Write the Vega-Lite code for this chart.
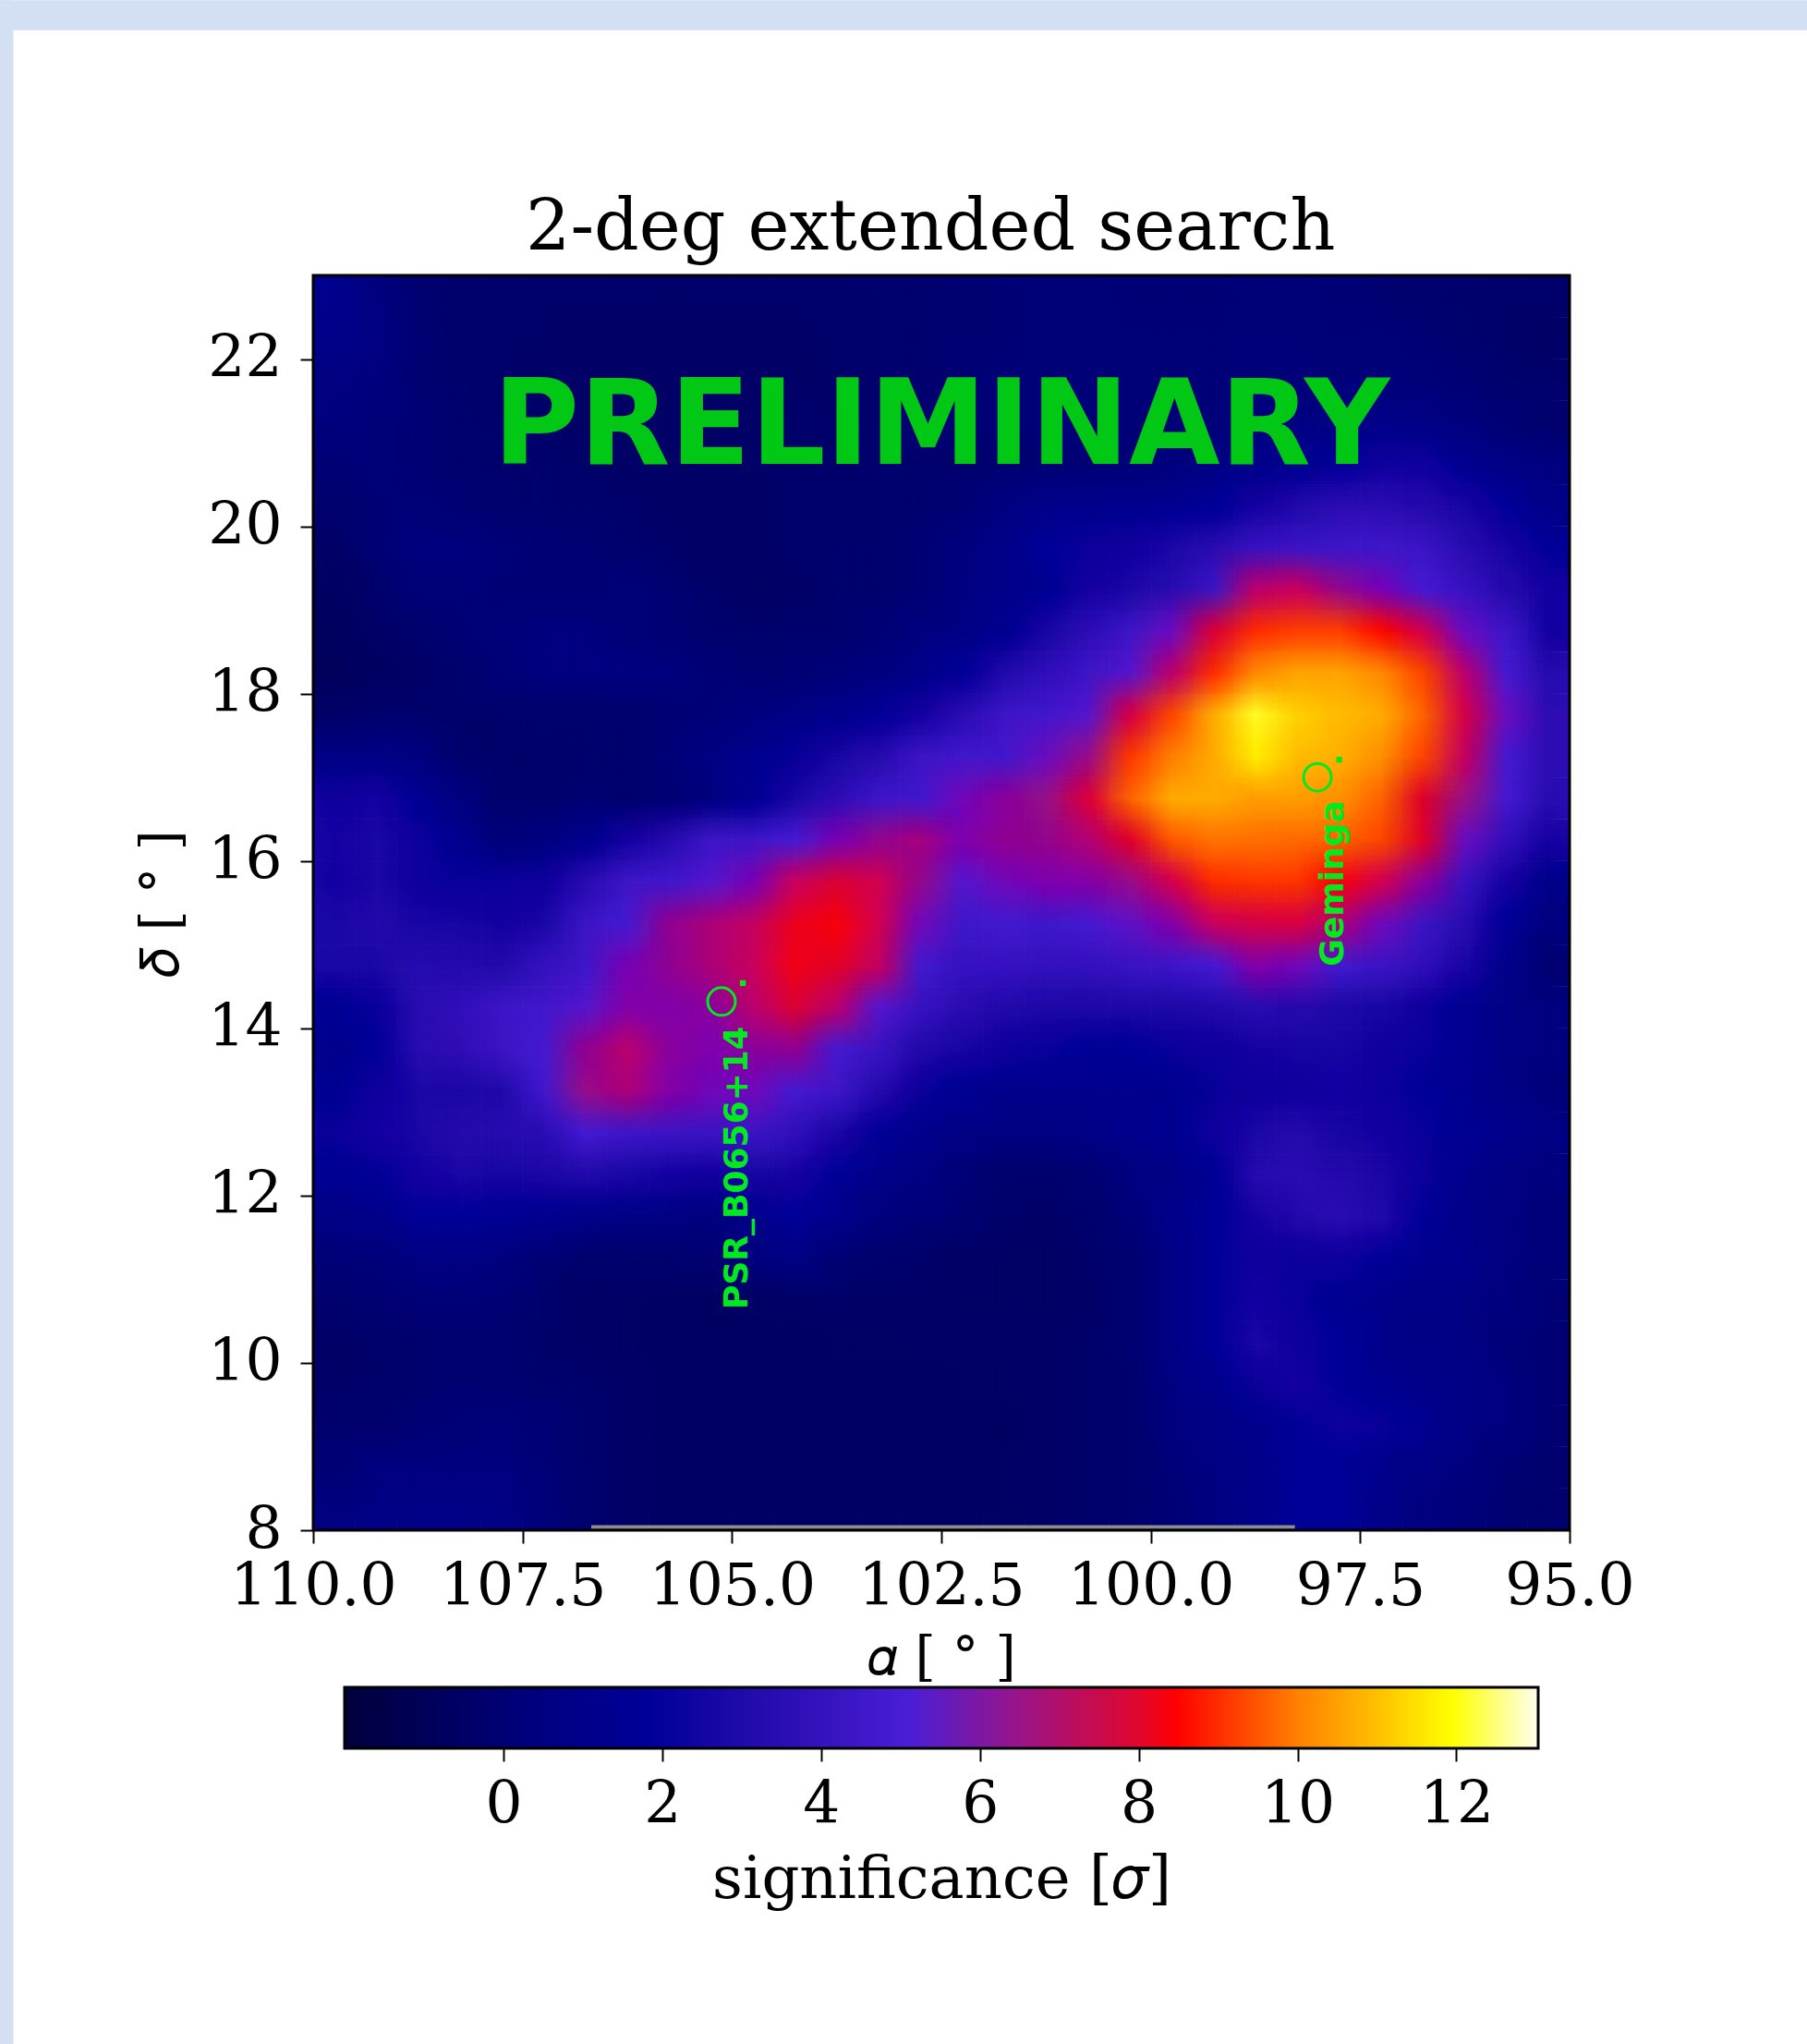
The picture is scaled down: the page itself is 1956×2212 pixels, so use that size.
{"$schema":"https://vega.github.io/schema/vega-lite/v6.json","description":"2-deg extended search","width":1360,"height":1358,"autosize":"none","padding":{"left":339,"top":298,"right":257,"bottom":556},"background":"white","config":{"font":"DejaVu Serif","view":{"stroke":null},"axis":{"grid":false,"labelFont":"DejaVu Serif","labelFontSize":63,"labelLimit":500,"labelColor":"black","titleFont":"DejaVu Serif","titleFontSize":57,"titleFontWeight":"normal","titleColor":"black","titleLimit":900,"tickColor":"black","tickSize":14,"tickWidth":2,"domain":false}},"datasets":{"cells":[
{"a":109.75,"d":22.75,"s":1.3},{"a":109.25,"d":22.75,"s":0.7},{"a":108.75,"d":22.75,"s":0.1},{"a":108.25,"d":22.75,"s":-0.2},{"a":107.75,"d":22.75,"s":-0.2},{"a":107.25,"d":22.75,"s":-0.2},{"a":106.75,"d":22.75,"s":-0.2},{"a":106.25,"d":22.75,"s":-0.2},{"a":105.75,"d":22.75,"s":-0.2},{"a":105.25,"d":22.75,"s":-0.2},{"a":104.75,"d":22.75,"s":-0.2},{"a":104.25,"d":22.75,"s":-0.2},{"a":103.75,"d":22.75,"s":-0.2},{"a":103.25,"d":22.75,"s":-0.1},{"a":102.75,"d":22.75,"s":0},{"a":102.25,"d":22.75,"s":0.1},{"a":101.75,"d":22.75,"s":0.2},{"a":101.25,"d":22.75,"s":0.3},{"a":100.75,"d":22.75,"s":0.3},{"a":100.25,"d":22.75,"s":0.2},{"a":99.75,"d":22.75,"s":0.2},{"a":99.25,"d":22.75,"s":0.2},{"a":98.75,"d":22.75,"s":0.3},{"a":98.25,"d":22.75,"s":0.3},{"a":97.75,"d":22.75,"s":0.2},{"a":97.25,"d":22.75,"s":0.1},{"a":96.75,"d":22.75,"s":0},{"a":96.25,"d":22.75,"s":-0.1},{"a":95.75,"d":22.75,"s":-0.2},{"a":95.25,"d":22.75,"s":-0.2},
{"a":109.75,"d":22.25,"s":1.2},{"a":109.25,"d":22.25,"s":0.8},{"a":108.75,"d":22.25,"s":0.2},{"a":108.25,"d":22.25,"s":-0.2},{"a":107.75,"d":22.25,"s":-0.2},{"a":107.25,"d":22.25,"s":-0.2},{"a":106.75,"d":22.25,"s":-0.3},{"a":106.25,"d":22.25,"s":-0.3},{"a":105.75,"d":22.25,"s":-0.3},{"a":105.25,"d":22.25,"s":-0.3},{"a":104.75,"d":22.25,"s":-0.3},{"a":104.25,"d":22.25,"s":-0.3},{"a":103.75,"d":22.25,"s":-0.2},{"a":103.25,"d":22.25,"s":-0.1},{"a":102.75,"d":22.25,"s":0},{"a":102.25,"d":22.25,"s":0.1},{"a":101.75,"d":22.25,"s":0.2},{"a":101.25,"d":22.25,"s":0.3},{"a":100.75,"d":22.25,"s":0.3},{"a":100.25,"d":22.25,"s":0.3},{"a":99.75,"d":22.25,"s":0.3},{"a":99.25,"d":22.25,"s":0.3},{"a":98.75,"d":22.25,"s":0.4},{"a":98.25,"d":22.25,"s":0.4},{"a":97.75,"d":22.25,"s":0.3},{"a":97.25,"d":22.25,"s":0.3},{"a":96.75,"d":22.25,"s":0.2},{"a":96.25,"d":22.25,"s":0},{"a":95.75,"d":22.25,"s":-0.2},{"a":95.25,"d":22.25,"s":-0.3},
{"a":109.75,"d":21.75,"s":0.7},{"a":109.25,"d":21.75,"s":0.5},{"a":108.75,"d":21.75,"s":0.1},{"a":108.25,"d":21.75,"s":-0.1},{"a":107.75,"d":21.75,"s":-0.2},{"a":107.25,"d":21.75,"s":-0.3},{"a":106.75,"d":21.75,"s":-0.3},{"a":106.25,"d":21.75,"s":-0.3},{"a":105.75,"d":21.75,"s":-0.3},{"a":105.25,"d":21.75,"s":-0.3},{"a":104.75,"d":21.75,"s":-0.3},{"a":104.25,"d":21.75,"s":-0.3},{"a":103.75,"d":21.75,"s":-0.2},{"a":103.25,"d":21.75,"s":-0.1},{"a":102.75,"d":21.75,"s":0},{"a":102.25,"d":21.75,"s":0.2},{"a":101.75,"d":21.75,"s":0.3},{"a":101.25,"d":21.75,"s":0.3},{"a":100.75,"d":21.75,"s":0.3},{"a":100.25,"d":21.75,"s":0.3},{"a":99.75,"d":21.75,"s":0.3},{"a":99.25,"d":21.75,"s":0.3},{"a":98.75,"d":21.75,"s":0.4},{"a":98.25,"d":21.75,"s":0.4},{"a":97.75,"d":21.75,"s":0.4},{"a":97.25,"d":21.75,"s":0.4},{"a":96.75,"d":21.75,"s":0.4},{"a":96.25,"d":21.75,"s":0.2},{"a":95.75,"d":21.75,"s":0},{"a":95.25,"d":21.75,"s":-0.1},
{"a":109.75,"d":21.25,"s":0.5},{"a":109.25,"d":21.25,"s":0.4},{"a":108.75,"d":21.25,"s":0.2},{"a":108.25,"d":21.25,"s":0},{"a":107.75,"d":21.25,"s":-0.1},{"a":107.25,"d":21.25,"s":-0.2},{"a":106.75,"d":21.25,"s":-0.3},{"a":106.25,"d":21.25,"s":-0.3},{"a":105.75,"d":21.25,"s":-0.3},{"a":105.25,"d":21.25,"s":-0.3},{"a":104.75,"d":21.25,"s":-0.3},{"a":104.25,"d":21.25,"s":-0.2},{"a":103.75,"d":21.25,"s":-0.1},{"a":103.25,"d":21.25,"s":0},{"a":102.75,"d":21.25,"s":0.1},{"a":102.25,"d":21.25,"s":0.2},{"a":101.75,"d":21.25,"s":0.3},{"a":101.25,"d":21.25,"s":0.3},{"a":100.75,"d":21.25,"s":0.3},{"a":100.25,"d":21.25,"s":0.3},{"a":99.75,"d":21.25,"s":0.3},{"a":99.25,"d":21.25,"s":0.4},{"a":98.75,"d":21.25,"s":0.6},{"a":98.25,"d":21.25,"s":0.8},{"a":97.75,"d":21.25,"s":1},{"a":97.25,"d":21.25,"s":1.2},{"a":96.75,"d":21.25,"s":1},{"a":96.25,"d":21.25,"s":0.6},{"a":95.75,"d":21.25,"s":0.2},{"a":95.25,"d":21.25,"s":0},
{"a":109.75,"d":20.75,"s":0.2},{"a":109.25,"d":20.75,"s":0.3},{"a":108.75,"d":20.75,"s":0.2},{"a":108.25,"d":20.75,"s":0},{"a":107.75,"d":20.75,"s":-0.1},{"a":107.25,"d":20.75,"s":-0.1},{"a":106.75,"d":20.75,"s":-0.2},{"a":106.25,"d":20.75,"s":-0.3},{"a":105.75,"d":20.75,"s":-0.3},{"a":105.25,"d":20.75,"s":-0.3},{"a":104.75,"d":20.75,"s":-0.3},{"a":104.25,"d":20.75,"s":-0.2},{"a":103.75,"d":20.75,"s":-0.2},{"a":103.25,"d":20.75,"s":-0.1},{"a":102.75,"d":20.75,"s":0},{"a":102.25,"d":20.75,"s":0},{"a":101.75,"d":20.75,"s":0.1},{"a":101.25,"d":20.75,"s":0.2},{"a":100.75,"d":20.75,"s":0.2},{"a":100.25,"d":20.75,"s":0.3},{"a":99.75,"d":20.75,"s":0.5},{"a":99.25,"d":20.75,"s":0.8},{"a":98.75,"d":20.75,"s":1.2},{"a":98.25,"d":20.75,"s":1.6},{"a":97.75,"d":20.75,"s":2},{"a":97.25,"d":20.75,"s":2.5},{"a":96.75,"d":20.75,"s":2.5},{"a":96.25,"d":20.75,"s":1.6},{"a":95.75,"d":20.75,"s":1},{"a":95.25,"d":20.75,"s":0.6},
{"a":109.75,"d":20.25,"s":0},{"a":109.25,"d":20.25,"s":0.2},{"a":108.75,"d":20.25,"s":0.3},{"a":108.25,"d":20.25,"s":0.2},{"a":107.75,"d":20.25,"s":0},{"a":107.25,"d":20.25,"s":0},{"a":106.75,"d":20.25,"s":-0.1},{"a":106.25,"d":20.25,"s":-0.2},{"a":105.75,"d":20.25,"s":-0.3},{"a":105.25,"d":20.25,"s":-0.3},{"a":104.75,"d":20.25,"s":-0.3},{"a":104.25,"d":20.25,"s":-0.2},{"a":103.75,"d":20.25,"s":-0.2},{"a":103.25,"d":20.25,"s":-0.1},{"a":102.75,"d":20.25,"s":0},{"a":102.25,"d":20.25,"s":0.2},{"a":101.75,"d":20.25,"s":0.7},{"a":101.25,"d":20.25,"s":1.2},{"a":100.75,"d":20.25,"s":1.4},{"a":100.25,"d":20.25,"s":1.5},{"a":99.75,"d":20.25,"s":1.6},{"a":99.25,"d":20.25,"s":1.9},{"a":98.75,"d":20.25,"s":2.6},{"a":98.25,"d":20.25,"s":3.2},{"a":97.75,"d":20.25,"s":3.7},{"a":97.25,"d":20.25,"s":3.7},{"a":96.75,"d":20.25,"s":3.4},{"a":96.25,"d":20.25,"s":2.8},{"a":95.75,"d":20.25,"s":2},{"a":95.25,"d":20.25,"s":1.2},
{"a":109.75,"d":19.75,"s":-0.3},{"a":109.25,"d":19.75,"s":0.2},{"a":108.75,"d":19.75,"s":0.5},{"a":108.25,"d":19.75,"s":0.5},{"a":107.75,"d":19.75,"s":0.3},{"a":107.25,"d":19.75,"s":0.2},{"a":106.75,"d":19.75,"s":0.1},{"a":106.25,"d":19.75,"s":0},{"a":105.75,"d":19.75,"s":-0.2},{"a":105.25,"d":19.75,"s":-0.3},{"a":104.75,"d":19.75,"s":-0.3},{"a":104.25,"d":19.75,"s":-0.2},{"a":103.75,"d":19.75,"s":-0.1},{"a":103.25,"d":19.75,"s":0},{"a":102.75,"d":19.75,"s":0.2},{"a":102.25,"d":19.75,"s":0.5},{"a":101.75,"d":19.75,"s":1.2},{"a":101.25,"d":19.75,"s":2},{"a":100.75,"d":19.75,"s":2.3},{"a":100.25,"d":19.75,"s":2.5},{"a":99.75,"d":19.75,"s":3},{"a":99.25,"d":19.75,"s":3.6},{"a":98.75,"d":19.75,"s":4.3},{"a":98.25,"d":19.75,"s":4.5},{"a":97.75,"d":19.75,"s":4.6},{"a":97.25,"d":19.75,"s":4.7},{"a":96.75,"d":19.75,"s":4.5},{"a":96.25,"d":19.75,"s":3.6},{"a":95.75,"d":19.75,"s":2.8},{"a":95.25,"d":19.75,"s":2},
{"a":109.75,"d":19.25,"s":-0.5},{"a":109.25,"d":19.25,"s":-0.1},{"a":108.75,"d":19.25,"s":0.3},{"a":108.25,"d":19.25,"s":0.3},{"a":107.75,"d":19.25,"s":0.2},{"a":107.25,"d":19.25,"s":0.2},{"a":106.75,"d":19.25,"s":0.2},{"a":106.25,"d":19.25,"s":0.3},{"a":105.75,"d":19.25,"s":0.1},{"a":105.25,"d":19.25,"s":-0.2},{"a":104.75,"d":19.25,"s":-0.4},{"a":104.25,"d":19.25,"s":-0.3},{"a":103.75,"d":19.25,"s":-0.1},{"a":103.25,"d":19.25,"s":0},{"a":102.75,"d":19.25,"s":0.2},{"a":102.25,"d":19.25,"s":0.7},{"a":101.75,"d":19.25,"s":1.2},{"a":101.25,"d":19.25,"s":1.8},{"a":100.75,"d":19.25,"s":2.6},{"a":100.25,"d":19.25,"s":3},{"a":99.75,"d":19.25,"s":3.6},{"a":99.25,"d":19.25,"s":4.5},{"a":98.75,"d":19.25,"s":7},{"a":98.25,"d":19.25,"s":7.3},{"a":97.75,"d":19.25,"s":6.3},{"a":97.25,"d":19.25,"s":5.6},{"a":96.75,"d":19.25,"s":5},{"a":96.25,"d":19.25,"s":4.3},{"a":95.75,"d":19.25,"s":3.4},{"a":95.25,"d":19.25,"s":2.6},
{"a":109.75,"d":18.75,"s":-0.7},{"a":109.25,"d":18.75,"s":-0.3},{"a":108.75,"d":18.75,"s":0},{"a":108.25,"d":18.75,"s":0.2},{"a":107.75,"d":18.75,"s":0.4},{"a":107.25,"d":18.75,"s":0.5},{"a":106.75,"d":18.75,"s":0.5},{"a":106.25,"d":18.75,"s":0.3},{"a":105.75,"d":18.75,"s":0.2},{"a":105.25,"d":18.75,"s":0},{"a":104.75,"d":18.75,"s":-0.1},{"a":104.25,"d":18.75,"s":-0.1},{"a":103.75,"d":18.75,"s":0},{"a":103.25,"d":18.75,"s":0.2},{"a":102.75,"d":18.75,"s":0.6},{"a":102.25,"d":18.75,"s":1},{"a":101.75,"d":18.75,"s":1.6},{"a":101.25,"d":18.75,"s":2.8},{"a":100.75,"d":18.75,"s":3.8},{"a":100.25,"d":18.75,"s":4.6},{"a":99.75,"d":18.75,"s":5.4},{"a":99.25,"d":18.75,"s":7.8},{"a":98.75,"d":18.75,"s":8.7},{"a":98.25,"d":18.75,"s":8.9},{"a":97.75,"d":18.75,"s":8.9},{"a":97.25,"d":18.75,"s":8.5},{"a":96.75,"d":18.75,"s":7.5},{"a":96.25,"d":18.75,"s":5.4},{"a":95.75,"d":18.75,"s":4.6},{"a":95.25,"d":18.75,"s":2.6},
{"a":109.75,"d":18.25,"s":-0.8},{"a":109.25,"d":18.25,"s":-0.5},{"a":108.75,"d":18.25,"s":-0.3},{"a":108.25,"d":18.25,"s":0},{"a":107.75,"d":18.25,"s":0.3},{"a":107.25,"d":18.25,"s":0.5},{"a":106.75,"d":18.25,"s":0.6},{"a":106.25,"d":18.25,"s":0.7},{"a":105.75,"d":18.25,"s":0.5},{"a":105.25,"d":18.25,"s":0.2},{"a":104.75,"d":18.25,"s":0.1},{"a":104.25,"d":18.25,"s":0.2},{"a":103.75,"d":18.25,"s":0.3},{"a":103.25,"d":18.25,"s":0.6},{"a":102.75,"d":18.25,"s":1.2},{"a":102.25,"d":18.25,"s":2},{"a":101.75,"d":18.25,"s":3.2},{"a":101.25,"d":18.25,"s":4},{"a":100.75,"d":18.25,"s":4.6},{"a":100.25,"d":18.25,"s":5.2},{"a":99.75,"d":18.25,"s":7},{"a":99.25,"d":18.25,"s":8.7},{"a":98.75,"d":18.25,"s":10.2},{"a":98.25,"d":18.25,"s":10.6},{"a":97.75,"d":18.25,"s":10.6},{"a":97.25,"d":18.25,"s":10.2},{"a":96.75,"d":18.25,"s":9},{"a":96.25,"d":18.25,"s":7},{"a":95.75,"d":18.25,"s":5},{"a":95.25,"d":18.25,"s":3.5},
{"a":109.75,"d":17.75,"s":-0.3},{"a":109.25,"d":17.75,"s":0},{"a":108.75,"d":17.75,"s":0},{"a":108.25,"d":17.75,"s":-0.2},{"a":107.75,"d":17.75,"s":-0.1},{"a":107.25,"d":17.75,"s":0},{"a":106.75,"d":17.75,"s":0},{"a":106.25,"d":17.75,"s":0},{"a":105.75,"d":17.75,"s":0.1},{"a":105.25,"d":17.75,"s":0.3},{"a":104.75,"d":17.75,"s":0.6},{"a":104.25,"d":17.75,"s":1},{"a":103.75,"d":17.75,"s":1.4},{"a":103.25,"d":17.75,"s":2},{"a":102.75,"d":17.75,"s":2.6},{"a":102.25,"d":17.75,"s":3.7},{"a":101.75,"d":17.75,"s":4.6},{"a":101.25,"d":17.75,"s":4.8},{"a":100.75,"d":17.75,"s":5.2},{"a":100.25,"d":17.75,"s":7.6},{"a":99.75,"d":17.75,"s":9},{"a":99.25,"d":17.75,"s":10.7},{"a":98.75,"d":17.75,"s":12},{"a":98.25,"d":17.75,"s":11.3},{"a":97.75,"d":17.75,"s":11},{"a":97.25,"d":17.75,"s":10.7},{"a":96.75,"d":17.75,"s":9.5},{"a":96.25,"d":17.75,"s":7.6},{"a":95.75,"d":17.75,"s":5.4},{"a":95.25,"d":17.75,"s":3.8},
{"a":109.75,"d":17.25,"s":0.9},{"a":109.25,"d":17.25,"s":1},{"a":108.75,"d":17.25,"s":0.7},{"a":108.25,"d":17.25,"s":0},{"a":107.75,"d":17.25,"s":-0.2},{"a":107.25,"d":17.25,"s":-0.2},{"a":106.75,"d":17.25,"s":-0.1},{"a":106.25,"d":17.25,"s":0},{"a":105.75,"d":17.25,"s":0.3},{"a":105.25,"d":17.25,"s":0.8},{"a":104.75,"d":17.25,"s":1.5},{"a":104.25,"d":17.25,"s":2.1},{"a":103.75,"d":17.25,"s":2.8},{"a":103.25,"d":17.25,"s":3.5},{"a":102.75,"d":17.25,"s":4.5},{"a":102.25,"d":17.25,"s":4.8},{"a":101.75,"d":17.25,"s":4.8},{"a":101.25,"d":17.25,"s":5.4},{"a":100.75,"d":17.25,"s":6.4},{"a":100.25,"d":17.25,"s":8.8},{"a":99.75,"d":17.25,"s":10},{"a":99.25,"d":17.25,"s":10.7},{"a":98.75,"d":17.25,"s":11.7},{"a":98.25,"d":17.25,"s":11},{"a":97.75,"d":17.25,"s":10.8},{"a":97.25,"d":17.25,"s":10.3},{"a":96.75,"d":17.25,"s":9},{"a":96.25,"d":17.25,"s":7.2},{"a":95.75,"d":17.25,"s":5},{"a":95.25,"d":17.25,"s":3.8},
{"a":109.75,"d":16.75,"s":2.4},{"a":109.25,"d":16.75,"s":2.7},{"a":108.75,"d":16.75,"s":1.8},{"a":108.25,"d":16.75,"s":0.7},{"a":107.75,"d":16.75,"s":0},{"a":107.25,"d":16.75,"s":-0.1},{"a":106.75,"d":16.75,"s":0.1},{"a":106.25,"d":16.75,"s":-0.1},{"a":105.75,"d":16.75,"s":0.1},{"a":105.25,"d":16.75,"s":0.7},{"a":104.75,"d":16.75,"s":1.8},{"a":104.25,"d":16.75,"s":2.9},{"a":103.75,"d":16.75,"s":3.8},{"a":103.25,"d":16.75,"s":4.6},{"a":102.75,"d":16.75,"s":4.8},{"a":102.25,"d":16.75,"s":5.5},{"a":101.75,"d":16.75,"s":6},{"a":101.25,"d":16.75,"s":6.5},{"a":100.75,"d":16.75,"s":7.8},{"a":100.25,"d":16.75,"s":9.5},{"a":99.75,"d":16.75,"s":10.7},{"a":99.25,"d":16.75,"s":10.7},{"a":98.75,"d":16.75,"s":10.5},{"a":98.25,"d":16.75,"s":10.5},{"a":97.75,"d":16.75,"s":10.3},{"a":97.25,"d":16.75,"s":9.5},{"a":96.75,"d":16.75,"s":8},{"a":96.25,"d":16.75,"s":6.5},{"a":95.75,"d":16.75,"s":5},{"a":95.25,"d":16.75,"s":3.6},
{"a":109.75,"d":16.25,"s":2.7},{"a":109.25,"d":16.25,"s":3},{"a":108.75,"d":16.25,"s":2.4},{"a":108.25,"d":16.25,"s":1.5},{"a":107.75,"d":16.25,"s":0.4},{"a":107.25,"d":16.25,"s":0.7},{"a":106.75,"d":16.25,"s":1.3},{"a":106.25,"d":16.25,"s":2.6},{"a":105.75,"d":16.25,"s":3.5},{"a":105.25,"d":16.25,"s":4.6},{"a":104.75,"d":16.25,"s":4.6},{"a":104.25,"d":16.25,"s":5.1},{"a":103.75,"d":16.25,"s":5.6},{"a":103.25,"d":16.25,"s":6.3},{"a":102.75,"d":16.25,"s":6.7},{"a":102.25,"d":16.25,"s":5.7},{"a":101.75,"d":16.25,"s":6.2},{"a":101.25,"d":16.25,"s":6.3},{"a":100.75,"d":16.25,"s":6.9},{"a":100.25,"d":16.25,"s":8},{"a":99.75,"d":16.25,"s":9.3},{"a":99.25,"d":16.25,"s":9.8},{"a":98.75,"d":16.25,"s":9.7},{"a":98.25,"d":16.25,"s":9.6},{"a":97.75,"d":16.25,"s":9.5},{"a":97.25,"d":16.25,"s":9},{"a":96.75,"d":16.25,"s":8},{"a":96.25,"d":16.25,"s":5.4},{"a":95.75,"d":16.25,"s":4},{"a":95.25,"d":16.25,"s":2.7},
{"a":109.75,"d":15.75,"s":2.6},{"a":109.25,"d":15.75,"s":3},{"a":108.75,"d":15.75,"s":2.4},{"a":108.25,"d":15.75,"s":2.2},{"a":107.75,"d":15.75,"s":2.2},{"a":107.25,"d":15.75,"s":2.4},{"a":106.75,"d":15.75,"s":3.6},{"a":106.25,"d":15.75,"s":4.6},{"a":105.75,"d":15.75,"s":4.8},{"a":105.25,"d":15.75,"s":5.2},{"a":104.75,"d":15.75,"s":5.6},{"a":104.25,"d":15.75,"s":7.3},{"a":103.75,"d":15.75,"s":7.9},{"a":103.25,"d":15.75,"s":7.5},{"a":102.75,"d":15.75,"s":6.3},{"a":102.25,"d":15.75,"s":5.2},{"a":101.75,"d":15.75,"s":5.5},{"a":101.25,"d":15.75,"s":5.7},{"a":100.75,"d":15.75,"s":5.8},{"a":100.25,"d":15.75,"s":6.4},{"a":99.75,"d":15.75,"s":7.5},{"a":99.25,"d":15.75,"s":8.7},{"a":98.75,"d":15.75,"s":8.8},{"a":98.25,"d":15.75,"s":8.8},{"a":97.75,"d":15.75,"s":8.4},{"a":97.25,"d":15.75,"s":7.5},{"a":96.75,"d":15.75,"s":6},{"a":96.25,"d":15.75,"s":4.3},{"a":95.75,"d":15.75,"s":2.7},{"a":95.25,"d":15.75,"s":1.2},
{"a":109.75,"d":15.25,"s":3},{"a":109.25,"d":15.25,"s":3.3},{"a":108.75,"d":15.25,"s":2.9},{"a":108.25,"d":15.25,"s":2.8},{"a":107.75,"d":15.25,"s":2.6},{"a":107.25,"d":15.25,"s":3},{"a":106.75,"d":15.25,"s":4.5},{"a":106.25,"d":15.25,"s":5},{"a":105.75,"d":15.25,"s":6.2},{"a":105.25,"d":15.25,"s":6.8},{"a":104.75,"d":15.25,"s":7.2},{"a":104.25,"d":15.25,"s":8.2},{"a":103.75,"d":15.25,"s":8.4},{"a":103.25,"d":15.25,"s":7.5},{"a":102.75,"d":15.25,"s":5.5},{"a":102.25,"d":15.25,"s":4.7},{"a":101.75,"d":15.25,"s":4.9},{"a":101.25,"d":15.25,"s":4.7},{"a":100.75,"d":15.25,"s":5},{"a":100.25,"d":15.25,"s":5.3},{"a":99.75,"d":15.25,"s":5.8},{"a":99.25,"d":15.25,"s":7.3},{"a":98.75,"d":15.25,"s":7.6},{"a":98.25,"d":15.25,"s":7.7},{"a":97.75,"d":15.25,"s":6.8},{"a":97.25,"d":15.25,"s":5.5},{"a":96.75,"d":15.25,"s":4.5},{"a":96.25,"d":15.25,"s":3.6},{"a":95.75,"d":15.25,"s":1.9},{"a":95.25,"d":15.25,"s":0.6},
{"a":109.75,"d":14.75,"s":3},{"a":109.25,"d":14.75,"s":3},{"a":108.75,"d":14.75,"s":3.5},{"a":108.25,"d":14.75,"s":3.4},{"a":107.75,"d":14.75,"s":3.3},{"a":107.25,"d":14.75,"s":4.2},{"a":106.75,"d":14.75,"s":4.7},{"a":106.25,"d":14.75,"s":5.6},{"a":105.75,"d":14.75,"s":6.2},{"a":105.25,"d":14.75,"s":6.8},{"a":104.75,"d":14.75,"s":7.3},{"a":104.25,"d":14.75,"s":8.3},{"a":103.75,"d":14.75,"s":8.1},{"a":103.25,"d":14.75,"s":7.2},{"a":102.75,"d":14.75,"s":4.9},{"a":102.25,"d":14.75,"s":4.3},{"a":101.75,"d":14.75,"s":4.3},{"a":101.25,"d":14.75,"s":4.2},{"a":100.75,"d":14.75,"s":4.2},{"a":100.25,"d":14.75,"s":4.4},{"a":99.75,"d":14.75,"s":4.6},{"a":99.25,"d":14.75,"s":5},{"a":98.75,"d":14.75,"s":5.8},{"a":98.25,"d":14.75,"s":5.5},{"a":97.75,"d":14.75,"s":4.9},{"a":97.25,"d":14.75,"s":4.5},{"a":96.75,"d":14.75,"s":4},{"a":96.25,"d":14.75,"s":2.9},{"a":95.75,"d":14.75,"s":1.2},{"a":95.25,"d":14.75,"s":0.1},
{"a":109.75,"d":14.25,"s":1.8},{"a":109.25,"d":14.25,"s":2.2},{"a":108.75,"d":14.25,"s":3.6},{"a":108.25,"d":14.25,"s":4},{"a":107.75,"d":14.25,"s":4.6},{"a":107.25,"d":14.25,"s":4.8},{"a":106.75,"d":14.25,"s":5.2},{"a":106.25,"d":14.25,"s":5.8},{"a":105.75,"d":14.25,"s":5.8},{"a":105.25,"d":14.25,"s":6},{"a":104.75,"d":14.25,"s":7},{"a":104.25,"d":14.25,"s":7.9},{"a":103.75,"d":14.25,"s":7},{"a":103.25,"d":14.25,"s":5.2},{"a":102.75,"d":14.25,"s":4.3},{"a":102.25,"d":14.25,"s":3.7},{"a":101.75,"d":14.25,"s":3.3},{"a":101.25,"d":14.25,"s":3.1},{"a":100.75,"d":14.25,"s":3.1},{"a":100.25,"d":14.25,"s":3.1},{"a":99.75,"d":14.25,"s":3.1},{"a":99.25,"d":14.25,"s":3.3},{"a":98.75,"d":14.25,"s":3.6},{"a":98.25,"d":14.25,"s":3.4},{"a":97.75,"d":14.25,"s":3.1},{"a":97.25,"d":14.25,"s":2.9},{"a":96.75,"d":14.25,"s":2.4},{"a":96.25,"d":14.25,"s":1.7},{"a":95.75,"d":14.25,"s":1},{"a":95.25,"d":14.25,"s":0.5},
{"a":109.75,"d":13.75,"s":1.3},{"a":109.25,"d":13.75,"s":2},{"a":108.75,"d":13.75,"s":3.6},{"a":108.25,"d":13.75,"s":3.9},{"a":107.75,"d":13.75,"s":4.5},{"a":107.25,"d":13.75,"s":5},{"a":106.75,"d":13.75,"s":6.2},{"a":106.25,"d":13.75,"s":7},{"a":105.75,"d":13.75,"s":6},{"a":105.25,"d":13.75,"s":5.7},{"a":104.75,"d":13.75,"s":6},{"a":104.25,"d":13.75,"s":6.2},{"a":103.75,"d":13.75,"s":5},{"a":103.25,"d":13.75,"s":4.4},{"a":102.75,"d":13.75,"s":3.3},{"a":102.25,"d":13.75,"s":2.8},{"a":101.75,"d":13.75,"s":2.4},{"a":101.25,"d":13.75,"s":2.2},{"a":100.75,"d":13.75,"s":1.9},{"a":100.25,"d":13.75,"s":1.9},{"a":99.75,"d":13.75,"s":2.2},{"a":99.25,"d":13.75,"s":2.4},{"a":98.75,"d":13.75,"s":2.7},{"a":98.25,"d":13.75,"s":2.8},{"a":97.75,"d":13.75,"s":2.8},{"a":97.25,"d":13.75,"s":2.5},{"a":96.75,"d":13.75,"s":2.2},{"a":96.25,"d":13.75,"s":1.7},{"a":95.75,"d":13.75,"s":1},{"a":95.25,"d":13.75,"s":0.5},
{"a":109.75,"d":13.25,"s":1.7},{"a":109.25,"d":13.25,"s":2.4},{"a":108.75,"d":13.25,"s":3},{"a":108.25,"d":13.25,"s":3},{"a":107.75,"d":13.25,"s":3.2},{"a":107.25,"d":13.25,"s":4.8},{"a":106.75,"d":13.25,"s":6.4},{"a":106.25,"d":13.25,"s":6.8},{"a":105.75,"d":13.25,"s":5.8},{"a":105.25,"d":13.25,"s":5.5},{"a":104.75,"d":13.25,"s":5.5},{"a":104.25,"d":13.25,"s":5},{"a":103.75,"d":13.25,"s":4.6},{"a":103.25,"d":13.25,"s":3.4},{"a":102.75,"d":13.25,"s":2.3},{"a":102.25,"d":13.25,"s":1.8},{"a":101.75,"d":13.25,"s":1.3},{"a":101.25,"d":13.25,"s":1.3},{"a":100.75,"d":13.25,"s":1.3},{"a":100.25,"d":13.25,"s":1.4},{"a":99.75,"d":13.25,"s":1.6},{"a":99.25,"d":13.25,"s":2.1},{"a":98.75,"d":13.25,"s":2.4},{"a":98.25,"d":13.25,"s":2.5},{"a":97.75,"d":13.25,"s":2.6},{"a":97.25,"d":13.25,"s":2.4},{"a":96.75,"d":13.25,"s":2},{"a":96.25,"d":13.25,"s":1.5},{"a":95.75,"d":13.25,"s":0.9},{"a":95.25,"d":13.25,"s":0.4},
{"a":109.75,"d":12.75,"s":2.2},{"a":109.25,"d":12.75,"s":2.6},{"a":108.75,"d":12.75,"s":3},{"a":108.25,"d":12.75,"s":3.4},{"a":107.75,"d":12.75,"s":3.5},{"a":107.25,"d":12.75,"s":3.8},{"a":106.75,"d":12.75,"s":5},{"a":106.25,"d":12.75,"s":4.6},{"a":105.75,"d":12.75,"s":4.5},{"a":105.25,"d":12.75,"s":4.4},{"a":104.75,"d":12.75,"s":4.5},{"a":104.25,"d":12.75,"s":4},{"a":103.75,"d":12.75,"s":3},{"a":103.25,"d":12.75,"s":2},{"a":102.75,"d":12.75,"s":1.4},{"a":102.25,"d":12.75,"s":1},{"a":101.75,"d":12.75,"s":0.7},{"a":101.25,"d":12.75,"s":0.8},{"a":100.75,"d":12.75,"s":1},{"a":100.25,"d":12.75,"s":1.3},{"a":99.75,"d":12.75,"s":1.6},{"a":99.25,"d":12.75,"s":2.4},{"a":98.75,"d":12.75,"s":3},{"a":98.25,"d":12.75,"s":3.4},{"a":97.75,"d":12.75,"s":2.8},{"a":97.25,"d":12.75,"s":2.6},{"a":96.75,"d":12.75,"s":2.2},{"a":96.25,"d":12.75,"s":1.8},{"a":95.75,"d":12.75,"s":1.3},{"a":95.25,"d":12.75,"s":1},
{"a":109.75,"d":12.25,"s":1.8},{"a":109.25,"d":12.25,"s":2},{"a":108.75,"d":12.25,"s":2.6},{"a":108.25,"d":12.25,"s":3},{"a":107.75,"d":12.25,"s":2.8},{"a":107.25,"d":12.25,"s":3},{"a":106.75,"d":12.25,"s":3.2},{"a":106.25,"d":12.25,"s":3},{"a":105.75,"d":12.25,"s":2.6},{"a":105.25,"d":12.25,"s":2.5},{"a":104.75,"d":12.25,"s":2.8},{"a":104.25,"d":12.25,"s":2.7},{"a":103.75,"d":12.25,"s":2},{"a":103.25,"d":12.25,"s":1.2},{"a":102.75,"d":12.25,"s":0.8},{"a":102.25,"d":12.25,"s":0.3},{"a":101.75,"d":12.25,"s":0},{"a":101.25,"d":12.25,"s":-0.1},{"a":100.75,"d":12.25,"s":0.1},{"a":100.25,"d":12.25,"s":0.7},{"a":99.75,"d":12.25,"s":1},{"a":99.25,"d":12.25,"s":1.8},{"a":98.75,"d":12.25,"s":3.5},{"a":98.25,"d":12.25,"s":3.7},{"a":97.75,"d":12.25,"s":3.4},{"a":97.25,"d":12.25,"s":3},{"a":96.75,"d":12.25,"s":2.3},{"a":96.25,"d":12.25,"s":1.4},{"a":95.75,"d":12.25,"s":0.8},{"a":95.25,"d":12.25,"s":0.5},
{"a":109.75,"d":11.75,"s":1},{"a":109.25,"d":11.75,"s":1.2},{"a":108.75,"d":11.75,"s":2},{"a":108.25,"d":11.75,"s":2},{"a":107.75,"d":11.75,"s":1.8},{"a":107.25,"d":11.75,"s":1.6},{"a":106.75,"d":11.75,"s":1.2},{"a":106.25,"d":11.75,"s":1},{"a":105.75,"d":11.75,"s":0.8},{"a":105.25,"d":11.75,"s":0.6},{"a":104.75,"d":11.75,"s":1.3},{"a":104.25,"d":11.75,"s":2},{"a":103.75,"d":11.75,"s":1.3},{"a":103.25,"d":11.75,"s":0.5},{"a":102.75,"d":11.75,"s":0.3},{"a":102.25,"d":11.75,"s":0.1},{"a":101.75,"d":11.75,"s":-0.2},{"a":101.25,"d":11.75,"s":-0.3},{"a":100.75,"d":11.75,"s":-0.1},{"a":100.25,"d":11.75,"s":0.3},{"a":99.75,"d":11.75,"s":1.3},{"a":99.25,"d":11.75,"s":1.9},{"a":98.75,"d":11.75,"s":2.7},{"a":98.25,"d":11.75,"s":3.3},{"a":97.75,"d":11.75,"s":3.7},{"a":97.25,"d":11.75,"s":3.2},{"a":96.75,"d":11.75,"s":2},{"a":96.25,"d":11.75,"s":1.2},{"a":95.75,"d":11.75,"s":0.7},{"a":95.25,"d":11.75,"s":0.4},
{"a":109.75,"d":11.25,"s":0.3},{"a":109.25,"d":11.25,"s":0.4},{"a":108.75,"d":11.25,"s":0.8},{"a":108.25,"d":11.25,"s":0.9},{"a":107.75,"d":11.25,"s":0.6},{"a":107.25,"d":11.25,"s":0.2},{"a":106.75,"d":11.25,"s":-0.1},{"a":106.25,"d":11.25,"s":0},{"a":105.75,"d":11.25,"s":0},{"a":105.25,"d":11.25,"s":0.1},{"a":104.75,"d":11.25,"s":0.5},{"a":104.25,"d":11.25,"s":0.9},{"a":103.75,"d":11.25,"s":0.2},{"a":103.25,"d":11.25,"s":0},{"a":102.75,"d":11.25,"s":-0.2},{"a":102.25,"d":11.25,"s":-0.3},{"a":101.75,"d":11.25,"s":-0.4},{"a":101.25,"d":11.25,"s":-0.4},{"a":100.75,"d":11.25,"s":-0.2},{"a":100.25,"d":11.25,"s":0.1},{"a":99.75,"d":11.25,"s":1},{"a":99.25,"d":11.25,"s":2},{"a":98.75,"d":11.25,"s":2.5},{"a":98.25,"d":11.25,"s":2.3},{"a":97.75,"d":11.25,"s":2.4},{"a":97.25,"d":11.25,"s":2},{"a":96.75,"d":11.25,"s":1.5},{"a":96.25,"d":11.25,"s":1.3},{"a":95.75,"d":11.25,"s":0.7},{"a":95.25,"d":11.25,"s":0.4},
{"a":109.75,"d":10.75,"s":-0.1},{"a":109.25,"d":10.75,"s":0.1},{"a":108.75,"d":10.75,"s":0.3},{"a":108.25,"d":10.75,"s":0.3},{"a":107.75,"d":10.75,"s":0.2},{"a":107.25,"d":10.75,"s":-0.1},{"a":106.75,"d":10.75,"s":-0.4},{"a":106.25,"d":10.75,"s":-0.4},{"a":105.75,"d":10.75,"s":-0.45},{"a":105.25,"d":10.75,"s":-0.45},{"a":104.75,"d":10.75,"s":-0.4},{"a":104.25,"d":10.75,"s":-0.3},{"a":103.75,"d":10.75,"s":-0.2},{"a":103.25,"d":10.75,"s":-0.3},{"a":102.75,"d":10.75,"s":-0.3},{"a":102.25,"d":10.75,"s":-0.4},{"a":101.75,"d":10.75,"s":-0.4},{"a":101.25,"d":10.75,"s":-0.4},{"a":100.75,"d":10.75,"s":-0.3},{"a":100.25,"d":10.75,"s":0.1},{"a":99.75,"d":10.75,"s":1},{"a":99.25,"d":10.75,"s":2},{"a":98.75,"d":10.75,"s":2.6},{"a":98.25,"d":10.75,"s":2.2},{"a":97.75,"d":10.75,"s":1.7},{"a":97.25,"d":10.75,"s":1.4},{"a":96.75,"d":10.75,"s":1},{"a":96.25,"d":10.75,"s":0.8},{"a":95.75,"d":10.75,"s":0.5},{"a":95.25,"d":10.75,"s":0.2},
{"a":109.75,"d":10.25,"s":-0.3},{"a":109.25,"d":10.25,"s":-0.2},{"a":108.75,"d":10.25,"s":0},{"a":108.25,"d":10.25,"s":0.1},{"a":107.75,"d":10.25,"s":0.1},{"a":107.25,"d":10.25,"s":-0.2},{"a":106.75,"d":10.25,"s":-0.3},{"a":106.25,"d":10.25,"s":-0.4},{"a":105.75,"d":10.25,"s":-0.45},{"a":105.25,"d":10.25,"s":-0.45},{"a":104.75,"d":10.25,"s":-0.45},{"a":104.25,"d":10.25,"s":-0.45},{"a":103.75,"d":10.25,"s":-0.4},{"a":103.25,"d":10.25,"s":-0.4},{"a":102.75,"d":10.25,"s":-0.3},{"a":102.25,"d":10.25,"s":-0.3},{"a":101.75,"d":10.25,"s":-0.3},{"a":101.25,"d":10.25,"s":-0.3},{"a":100.75,"d":10.25,"s":-0.2},{"a":100.25,"d":10.25,"s":0.1},{"a":99.75,"d":10.25,"s":1},{"a":99.25,"d":10.25,"s":2},{"a":98.75,"d":10.25,"s":3},{"a":98.25,"d":10.25,"s":2.4},{"a":97.75,"d":10.25,"s":2},{"a":97.25,"d":10.25,"s":1.4},{"a":96.75,"d":10.25,"s":1},{"a":96.25,"d":10.25,"s":0.8},{"a":95.75,"d":10.25,"s":0.4},{"a":95.25,"d":10.25,"s":0.2},
{"a":109.75,"d":9.75,"s":-0.3},{"a":109.25,"d":9.75,"s":-0.2},{"a":108.75,"d":9.75,"s":0},{"a":108.25,"d":9.75,"s":0.1},{"a":107.75,"d":9.75,"s":0.1},{"a":107.25,"d":9.75,"s":0},{"a":106.75,"d":9.75,"s":-0.1},{"a":106.25,"d":9.75,"s":-0.3},{"a":105.75,"d":9.75,"s":-0.45},{"a":105.25,"d":9.75,"s":-0.45},{"a":104.75,"d":9.75,"s":-0.45},{"a":104.25,"d":9.75,"s":-0.45},{"a":103.75,"d":9.75,"s":-0.45},{"a":103.25,"d":9.75,"s":-0.45},{"a":102.75,"d":9.75,"s":-0.45},{"a":102.25,"d":9.75,"s":-0.4},{"a":101.75,"d":9.75,"s":-0.4},{"a":101.25,"d":9.75,"s":-0.3},{"a":100.75,"d":9.75,"s":-0.2},{"a":100.25,"d":9.75,"s":0},{"a":99.75,"d":9.75,"s":0.8},{"a":99.25,"d":9.75,"s":1.5},{"a":98.75,"d":9.75,"s":2.3},{"a":98.25,"d":9.75,"s":2.6},{"a":97.75,"d":9.75,"s":2},{"a":97.25,"d":9.75,"s":1.6},{"a":96.75,"d":9.75,"s":1.2},{"a":96.25,"d":9.75,"s":0.9},{"a":95.75,"d":9.75,"s":0.5},{"a":95.25,"d":9.75,"s":0.2},
{"a":109.75,"d":9.25,"s":-0.1},{"a":109.25,"d":9.25,"s":0},{"a":108.75,"d":9.25,"s":0.2},{"a":108.25,"d":9.25,"s":0.3},{"a":107.75,"d":9.25,"s":0.4},{"a":107.25,"d":9.25,"s":0.2},{"a":106.75,"d":9.25,"s":-0.1},{"a":106.25,"d":9.25,"s":-0.3},{"a":105.75,"d":9.25,"s":-0.45},{"a":105.25,"d":9.25,"s":-0.45},{"a":104.75,"d":9.25,"s":-0.45},{"a":104.25,"d":9.25,"s":-0.45},{"a":103.75,"d":9.25,"s":-0.45},{"a":103.25,"d":9.25,"s":-0.45},{"a":102.75,"d":9.25,"s":-0.45},{"a":102.25,"d":9.25,"s":-0.45},{"a":101.75,"d":9.25,"s":-0.45},{"a":101.25,"d":9.25,"s":-0.3},{"a":100.75,"d":9.25,"s":-0.2},{"a":100.25,"d":9.25,"s":0},{"a":99.75,"d":9.25,"s":0.5},{"a":99.25,"d":9.25,"s":1},{"a":98.75,"d":9.25,"s":1.4},{"a":98.25,"d":9.25,"s":2},{"a":97.75,"d":9.25,"s":2.4},{"a":97.25,"d":9.25,"s":2.2},{"a":96.75,"d":9.25,"s":1.7},{"a":96.25,"d":9.25,"s":1},{"a":95.75,"d":9.25,"s":0.5},{"a":95.25,"d":9.25,"s":0.1},
{"a":109.75,"d":8.75,"s":0.2},{"a":109.25,"d":8.75,"s":0.5},{"a":108.75,"d":8.75,"s":0.6},{"a":108.25,"d":8.75,"s":0.6},{"a":107.75,"d":8.75,"s":0.6},{"a":107.25,"d":8.75,"s":0.3},{"a":106.75,"d":8.75,"s":0},{"a":106.25,"d":8.75,"s":-0.3},{"a":105.75,"d":8.75,"s":-0.45},{"a":105.25,"d":8.75,"s":-0.45},{"a":104.75,"d":8.75,"s":-0.45},{"a":104.25,"d":8.75,"s":-0.45},{"a":103.75,"d":8.75,"s":-0.45},{"a":103.25,"d":8.75,"s":-0.45},{"a":102.75,"d":8.75,"s":-0.45},{"a":102.25,"d":8.75,"s":-0.45},{"a":101.75,"d":8.75,"s":-0.4},{"a":101.25,"d":8.75,"s":-0.3},{"a":100.75,"d":8.75,"s":-0.2},{"a":100.25,"d":8.75,"s":-0.1},{"a":99.75,"d":8.75,"s":0.3},{"a":99.25,"d":8.75,"s":0.8},{"a":98.75,"d":8.75,"s":1.2},{"a":98.25,"d":8.75,"s":1.9},{"a":97.75,"d":8.75,"s":1.9},{"a":97.25,"d":8.75,"s":1.4},{"a":96.75,"d":8.75,"s":0.9},{"a":96.25,"d":8.75,"s":0.5},{"a":95.75,"d":8.75,"s":0.2},{"a":95.25,"d":8.75,"s":0},
{"a":109.75,"d":8.25,"s":0.5},{"a":109.25,"d":8.25,"s":0.9},{"a":108.75,"d":8.25,"s":1},{"a":108.25,"d":8.25,"s":1},{"a":107.75,"d":8.25,"s":0.8},{"a":107.25,"d":8.25,"s":0.4},{"a":106.75,"d":8.25,"s":0},{"a":106.25,"d":8.25,"s":-0.3},{"a":105.75,"d":8.25,"s":-0.45},{"a":105.25,"d":8.25,"s":-0.45},{"a":104.75,"d":8.25,"s":-0.45},{"a":104.25,"d":8.25,"s":-0.45},{"a":103.75,"d":8.25,"s":-0.45},{"a":103.25,"d":8.25,"s":-0.45},{"a":102.75,"d":8.25,"s":-0.45},{"a":102.25,"d":8.25,"s":-0.45},{"a":101.75,"d":8.25,"s":-0.4},{"a":101.25,"d":8.25,"s":-0.3},{"a":100.75,"d":8.25,"s":-0.2},{"a":100.25,"d":8.25,"s":0},{"a":99.75,"d":8.25,"s":0.2},{"a":99.25,"d":8.25,"s":0.7},{"a":98.75,"d":8.25,"s":1.2},{"a":98.25,"d":8.25,"s":1.9},{"a":97.75,"d":8.25,"s":1.9},{"a":97.25,"d":8.25,"s":1.2},{"a":96.75,"d":8.25,"s":0.7},{"a":96.25,"d":8.25,"s":0.4},{"a":95.75,"d":8.25,"s":0.1},{"a":95.25,"d":8.25,"s":-0.1}
],"marks":[{"a":105.125,"d":14.32},{"a":98.01,"d":17.0}],"dots":[{"a":104.87,"d":14.54},{"a":97.75,"d":17.21}],"labels":[{"a":104.82,"d":10.64,"name":"PSR_B0656+14"},{"a":97.7,"d":14.74,"name":"Geminga"}],"stamp":[{"a":102.5,"d":21.17,"name":"PRELIMINARY"}],"heading":[{"a":102.63,"d":23.31,"name":"2-deg extended search"}],"strip":[{"a":106.68,"a2":98.28,"d":8.04}],"frame":[{"a":110,"a2":95,"d":8,"d2":23}]},"layer":[{"data":{"values":[{"p":113.74,"p2":92,"q":26.29,"q2":25.93},{"p":113.74,"p2":113.58,"q":26.29,"q2":1.8}]},"mark":{"type":"rect","fill":"#d3e0f4"},"encoding":{"x":{"field":"p","type":"quantitative","scale":{"domain":[110,95]},"axis":null},"x2":{"field":"p2"},"y":{"field":"q","type":"quantitative","scale":{"domain":[8,23]},"axis":null},"y2":{"field":"q2"}}},{"encoding":{"x":{"field":"a","type":"quantitative","scale":{"domain":[110,95]},"axis":{"orient":"bottom","values":[110,107.5,105,102.5,100,97.5,95],"format":".1f","title":"𝛼 [ ° ]","labelPadding":16,"titlePadding":17,"labelFlush":false,"labelOverlap":false}},"y":{"field":"d","type":"quantitative","scale":{"domain":[8,23]},"axis":{"orient":"left","values":[8,10,12,14,16,18,20,22],"title":"𝛿 [ ° ]","labelPadding":20,"titlePadding":20,"labelOverlap":false}}},"layer":[{"data":{"name":"cells"},"encoding":{"color":{"field":"s","type":"quantitative","legend":null,"scale":{"domain":[-2,-0.5,0.47,1.83,3,3.77,5.1,6.5,8,8.47,10,11,11.95,13.03],"range":["#00003c","#000066","#000080","#000098","#1f0aaa","#3010b8","#4a1ed6","#9a1488","#e0062e","#ff0000","#ff8000","#ffc000","#ffff00","#fffff0"]}}},"layer":[{"mark":{"type":"rect","width":45.4,"height":45.3,"clip":true}},{"mark":{"type":"rect","width":45.4,"height":45.3,"clip":true,"xOffset":-21.25,"yOffset":-21.25,"opacity":0.5}},{"mark":{"type":"rect","width":45.4,"height":45.3,"clip":true,"xOffset":-18.42,"yOffset":1.42,"opacity":0.333}},{"mark":{"type":"rect","width":45.4,"height":45.3,"clip":true,"xOffset":-15.58,"yOffset":-9.92,"opacity":0.25}},{"mark":{"type":"rect","width":45.4,"height":45.3,"clip":true,"xOffset":-12.75,"yOffset":12.75,"opacity":0.2}},{"mark":{"type":"rect","width":45.4,"height":45.3,"clip":true,"xOffset":-9.92,"yOffset":-15.58,"opacity":0.167}},{"mark":{"type":"rect","width":45.4,"height":45.3,"clip":true,"xOffset":-7.08,"yOffset":7.08,"opacity":0.143}},{"mark":{"type":"rect","width":45.4,"height":45.3,"clip":true,"xOffset":-4.25,"yOffset":-4.25,"opacity":0.125}},{"mark":{"type":"rect","width":45.4,"height":45.3,"clip":true,"xOffset":-1.42,"yOffset":18.42,"opacity":0.111}},{"mark":{"type":"rect","width":45.4,"height":45.3,"clip":true,"xOffset":1.42,"yOffset":-18.42,"opacity":0.1}},{"mark":{"type":"rect","width":45.4,"height":45.3,"clip":true,"xOffset":4.25,"yOffset":4.25,"opacity":0.091}},{"mark":{"type":"rect","width":45.4,"height":45.3,"clip":true,"xOffset":7.08,"yOffset":-7.08,"opacity":0.083}},{"mark":{"type":"rect","width":45.4,"height":45.3,"clip":true,"xOffset":9.92,"yOffset":15.58,"opacity":0.077}},{"mark":{"type":"rect","width":45.4,"height":45.3,"clip":true,"xOffset":12.75,"yOffset":-12.75,"opacity":0.071}},{"mark":{"type":"rect","width":45.4,"height":45.3,"clip":true,"xOffset":15.58,"yOffset":9.92,"opacity":0.067}},{"mark":{"type":"rect","width":45.4,"height":45.3,"clip":true,"xOffset":18.42,"yOffset":-1.42,"opacity":0.063}},{"mark":{"type":"rect","width":45.4,"height":45.3,"clip":true,"xOffset":21.25,"yOffset":21.25,"opacity":0.059}}]},{"data":{"name":"strip"},"mark":{"type":"rule","color":"#8c8c8c","strokeWidth":4},"encoding":{"x2":{"field":"a2"}}},{"data":{"name":"frame"},"mark":{"type":"rect","fill":null,"stroke":"black","strokeWidth":3},"encoding":{"x2":{"field":"a2"},"y2":{"field":"d2"}}},{"data":{"name":"heading"},"mark":{"type":"text","font":"DejaVu Serif","fontSize":76,"color":"black","baseline":"alphabetic"},"encoding":{"text":{"field":"name"}}},{"data":{"name":"stamp"},"mark":{"type":"text","font":"DejaVu Sans","fontWeight":"bold","fontSize":127.5,"color":"#00c814","baseline":"middle"},"encoding":{"text":{"field":"name"}}},{"data":{"name":"labels"},"mark":{"type":"text","font":"DejaVu Sans","fontWeight":"bold","fontSize":36,"color":"#00ea1e","angle":270,"align":"left","baseline":"alphabetic"},"encoding":{"text":{"field":"name"}}},{"data":{"name":"marks"},"mark":{"type":"point","shape":"circle","size":900,"filled":false,"stroke":"#00ea1e","strokeWidth":3,"opacity":1}},{"data":{"name":"dots"},"mark":{"type":"point","shape":"square","size":40,"filled":true,"color":"#00ea1e","opacity":1}}]},{"data":{"values":[{"c":-2,"c2":13.03,"r":0,"r2":1}]},"mark":{"type":"rect","stroke":"black","strokeWidth":3,"fill":{"gradient":"linear","x1":0,"y1":0,"x2":1,"y2":0,"stops":[{"offset":0,"color":"#00003c"},{"offset":0.0998,"color":"#000066"},{"offset":0.1643,"color":"#000080"},{"offset":0.2548,"color":"#000098"},{"offset":0.3327,"color":"#1f0aaa"},{"offset":0.3839,"color":"#3010b8"},{"offset":0.4724,"color":"#4a1ed6"},{"offset":0.5655,"color":"#9a1488"},{"offset":0.6653,"color":"#e0062e"},{"offset":0.6966,"color":"#ff0000"},{"offset":0.7984,"color":"#ff8000"},{"offset":0.8649,"color":"#ffc000"},{"offset":0.9281,"color":"#ffff00"},{"offset":1,"color":"#fffff0"}]}},"encoding":{"x":{"field":"c","type":"quantitative","scale":{"domain":[-2,13.03],"range":[34,1326],"nice":false,"zero":false},"axis":{"orient":"bottom","values":[0,2,4,6,8,10,12],"title":"significance [𝜎]","titleFontSize":64,"offset":236,"labelPadding":16,"titlePadding":17,"labelOverlap":false}},"x2":{"field":"c2"},"y":{"field":"r","type":"quantitative","scale":{"domain":[0,1],"range":[1594,1528]},"axis":null},"y2":{"field":"r2"}}}],"resolve":{"scale":{"x":"independent","y":"independent"},"axis":{"x":"independent","y":"independent"}}}
